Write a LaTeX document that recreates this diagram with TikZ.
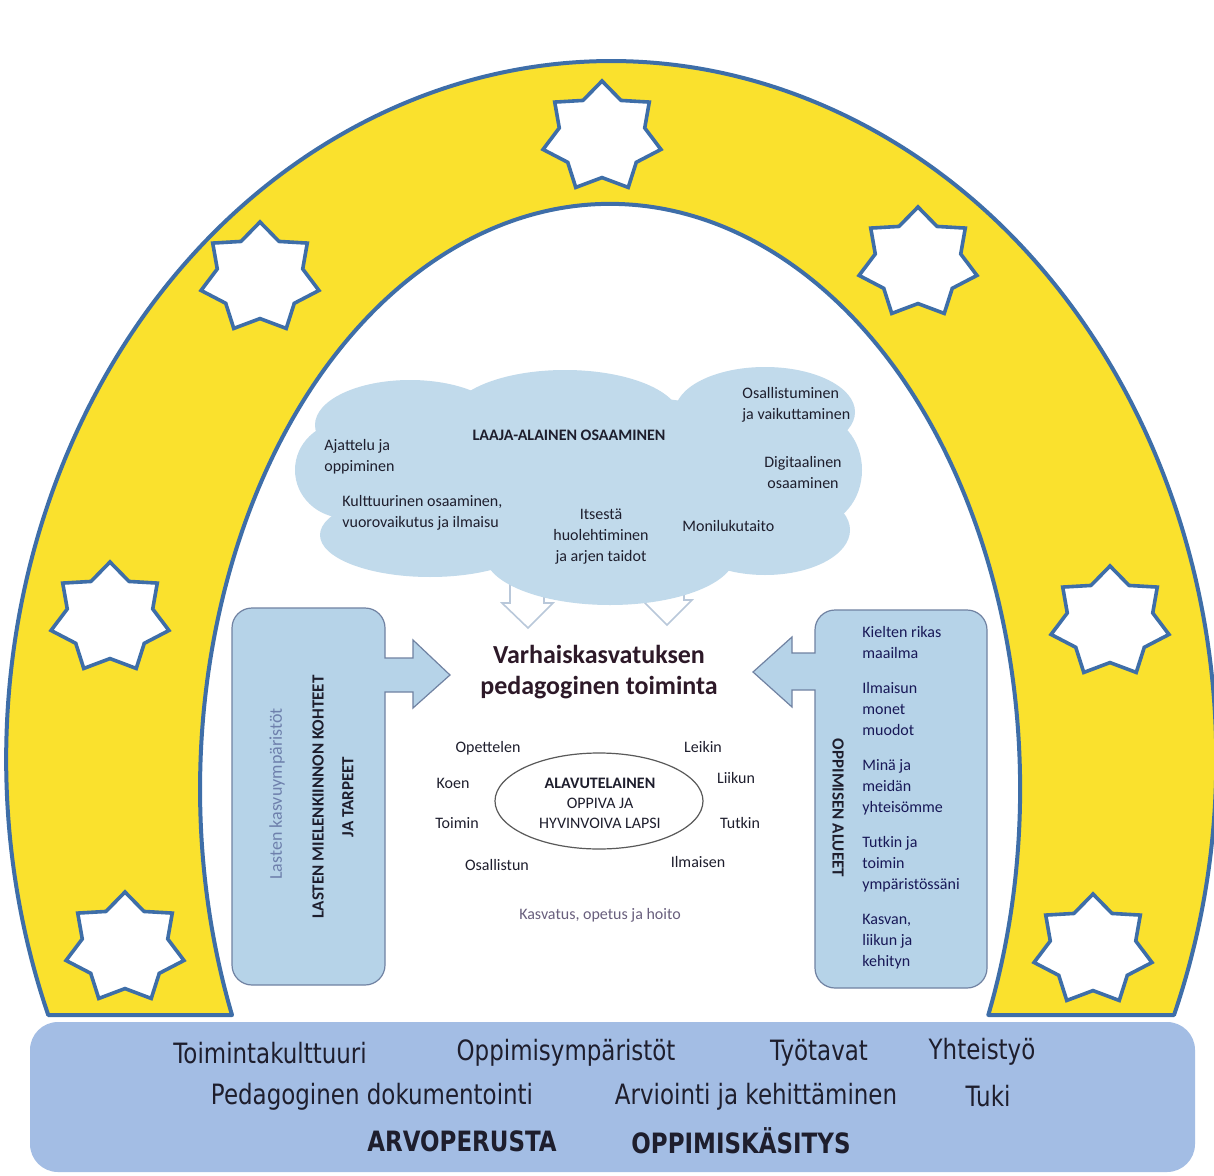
\documentclass[tikz,border=0pt]{standalone}
\usepackage{fontspec}
\setmainfont{Carlito}
\newfontfamily\bandfont[FakeStretch=0.82]{DejaVu Sans}
\usetikzlibrary{shapes.geometric}

\definecolor{archyellow}{RGB}{250,225,45}
\definecolor{archblue}{RGB}{62,110,168}
\definecolor{cloudblue}{RGB}{193,218,235}
\definecolor{boxblue}{RGB}{182,211,232}
\definecolor{boxline}{RGB}{112,130,162}
\definecolor{bandblue}{RGB}{163,189,228}
\definecolor{hollowgray}{RGB}{185,200,218}
\definecolor{inktext}{RGB}{30,30,45}
\definecolor{softtext}{RGB}{110,128,172}
\definecolor{mutedtext}{RGB}{105,95,125}
\definecolor{titletext}{RGB}{45,25,40}

\tikzset{
  sevenstar/.style={star, star points=7, star point ratio=1.38, minimum size=56pt, inner sep=0pt,
    xscale=1.08, fill=white, draw=archblue, line width=1.8pt},
  smalltext/.style={font=\fontsize{8}{10.5}\selectfont, text=inktext, inner sep=0pt},
  sidebox/.style={fill=boxblue, draw=boxline, line width=0.6pt},
  hollowarrow/.style={fill=white, draw=hollowgray, line width=0.8pt},
  bandtext/.style={font=\bandfont\fontsize{14}{16}\selectfont, text=inktext, inner sep=0pt}
}

\begin{document}
\begin{tikzpicture}[x=0.5pt, y=-0.5pt]
\useasboundingbox (0,0) rectangle (1214,1176);
\fill[white] (0,0) rectangle (1214,1176);

% yellow arch
\filldraw[fill=archyellow, draw=archblue, line width=2pt, line join=round]
  (1174,1015) arc[start angle=21.5, end angle=-201.5, x radius=605, y radius=698]
  -- (232,1015) arc[start angle=-202.73, end angle=22.73, x radius=410, y radius=585]
  -- cycle;

% hollow arrows below the cloud
\draw[hollowarrow] (510,560) -- (510,603) -- (502,603) -- (528,628) -- (553,603) -- (544,603) -- (544,560);
\draw[hollowarrow] (650,560) -- (650,600) -- (642,600) -- (667,625) -- (692,600) -- (684,600) -- (684,560);

% cloud, as a union of puffs
\foreach \cx/\cy/\rx/\ry in {578/482/265/88, 345/470/50/48, 410/425/95/45, 565/418/115/48,
    765/412/90/45, 815/470/47/55, 765/530/85/45, 610/555/125/50, 430/535/110/42}
  \fill[cloudblue] (\cx,\cy) ellipse[x radius=\rx, y radius=\ry];

\node[smalltext, font=\fontsize{8}{10.5}\selectfont\bfseries] (laaja) at (569,435) {LAAJA-ALAINEN OSAAMINEN};
\node[smalltext, align=left, anchor=west] (ajattelu) at (324,457) {Ajattelu ja\\oppiminen};
\node[smalltext, align=left, anchor=west] (kulttuuri) at (342,513) {Kulttuurinen osaaminen,\\vuorovaikutus ja ilmaisu};
\node[smalltext, align=center] (itsesta) at (601,537) {Itsestä\\huolehtiminen\\ja arjen taidot};
\node[smalltext, anchor=west] (moniluku) at (682,526) {Monilukutaito};
\node[smalltext, align=left, anchor=west] (osallistuminen) at (742,405) {Osallistuminen\\ja vaikuttaminen};
\node[smalltext, align=center] (digi) at (803,473) {Digitaalinen\\osaaminen};

% left box with arrow
\draw[sidebox] (232,800) [rounded corners=10pt] -- (232,608) -- (385,608) [sharp corners] -- (385,658)
  -- (413,658) -- (413,640) -- (450,675) -- (413,708) -- (413,692) -- (385,692)
  [rounded corners=10pt] -- (385,985) -- (232,985) [sharp corners] -- cycle;
\node[rotate=90, font=\fontsize{9}{11}\selectfont, text=softtext, inner sep=0pt] (kasvuymp) at (277,794) {Lasten kasvuympäristöt};
\node[rotate=90, font=\fontsize{8.5}{11}\selectfont\bfseries, text=inktext, inner sep=0pt] (kohteet) at (318,797) {LASTEN MIELENKIINNON KOHTEET};
\node[rotate=90, font=\fontsize{8.5}{11}\selectfont\bfseries, text=inktext, inner sep=0pt] (tarpeet) at (348,797) {JA TARPEET};

% right box with arrow
\draw[sidebox] (987,800) [rounded corners=10pt] -- (987,610) -- (815,610) [sharp corners] -- (815,653)
  -- (792,653) -- (792,637) -- (753,672) -- (792,707) -- (792,690) -- (815,690)
  [rounded corners=10pt] -- (815,988) -- (987,988) [sharp corners] -- cycle;
\node[rotate=-90, font=\fontsize{8.5}{11}\selectfont\bfseries, text=inktext, inner sep=0pt] (alueet) at (838,808) {OPPIMISEN ALUEET};
\node[smalltext, text=inktext!80!blue, align=left, anchor=west] (alueetlist) at (862,798)
  {Kielten rikas\\maailma\\[7pt]Ilmaisun\\monet\\muodot\\[7pt]Minä ja\\meidän\\yhteisömme\\[7pt]Tutkin ja\\toimin\\ympäristössäni\\[7pt]Kasvan,\\liikun ja\\kehityn};

% centre
\node[font=\fontsize{13}{15.5}\selectfont\bfseries, text=titletext, align=center, inner sep=0pt] (title) at (599,672)
  {Varhaiskasvatuksen\\pedagoginen toiminta};
\node[ellipse, draw=black!65, line width=0.6pt, minimum width=104pt, minimum height=48pt] (lapsi) at (599,801) {};
\node[smalltext, align=center, font=\fontsize{8}{10}\selectfont] (lapsitext) at (600,803)
  {\textbf{ALAVUTELAINEN}\\OPPIVA JA\\HYVINVOIVA LAPSI};
\node[smalltext] (opettelen) at (488,748) {Opettelen};
\node[smalltext] (leikin) at (703,747) {Leikin};
\node[smalltext] (koen) at (453,783) {Koen};
\node[smalltext] (liikun) at (736,778) {Liikun};
\node[smalltext] (toimin) at (457,823) {Toimin};
\node[smalltext] (tutkin) at (740,823) {Tutkin};
\node[smalltext] (osallistun) at (497,865) {Osallistun};
\node[smalltext] (ilmaisen) at (698,862) {Ilmaisen};
\node[smalltext, text=mutedtext] (kasvatus) at (600,915) {Kasvatus, opetus ja hoito};

% bottom band
\fill[bandblue, rounded corners=14pt] (30,1022) rectangle (1195,1172);
\node[bandtext] (toimintak) at (270,1053) {Toimintakulttuuri};
\node[bandtext] (oppimisymp) at (566,1053) {Oppimisympäristöt};
\node[bandtext] (tyotavat) at (819,1053) {Työtavat};
\node[bandtext] (yhteistyo) at (982,1052) {Yhteistyö};
\node[bandtext] (dokument) at (372,1097) {Pedagoginen dokumentointi};
\node[bandtext] (arviointi) at (756,1097) {Arviointi ja kehittäminen};
\node[bandtext] (tuki) at (988,1096) {Tuki};
\node[bandtext, font=\bandfont\fontsize{14}{16}\selectfont\bfseries] (arvoperusta) at (462,1141) {ARVOPERUSTA};
\node[bandtext, font=\bandfont\fontsize{14}{16}\selectfont\bfseries] (kasitys) at (741,1141) {OPPIMISKÄSITYS};

% stars
\foreach \n/\sx/\sy in {1/602/137, 2/260/278, 3/918/263, 4/110/618, 5/1110/622, 6/125/948, 7/1093/950}
  \node[sevenstar] (star\n) at (\sx,\sy) {};
\end{tikzpicture}
\end{document}
